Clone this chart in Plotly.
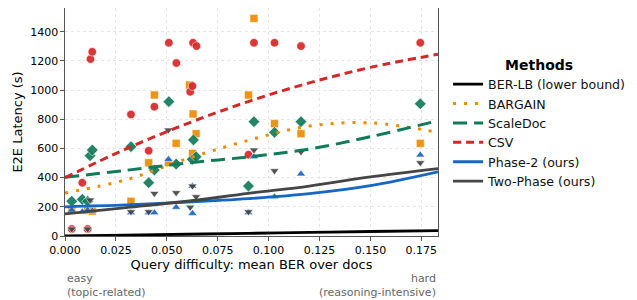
import plotly.graph_objects as go

# ---------------- data ----------------
csv_x = [0.0033, 0.0085, 0.0111, 0.0125, 0.0134, 0.0324, 0.0411, 0.0439, 0.0510, 0.0547,
         0.0615, 0.0626, 0.0629, 0.0646, 0.0901, 0.0928, 0.1029, 0.1159, 0.1745]
csv_y = [48, 365, 48, 1212, 1262, 833, 584, 886, 1324, 1185,
         988, 1027, 1324, 1301, 557, 1324, 1324, 1301, 1324]

bargain_x = [0.0033, 0.0111, 0.0134, 0.0324, 0.0411, 0.0439, 0.0508, 0.0546, 0.0611,
             0.0626, 0.0629, 0.0644, 0.0901, 0.0928, 0.1029, 0.1159, 0.1745]
bargain_y = [178, 175, 170, 238, 502, 966, 502, 635, 1034,
             566, 836, 701, 966, 1491, 770, 701, 635]

scaledoc_x = [0.0033, 0.0085, 0.0111, 0.0123, 0.0134, 0.0324, 0.0411, 0.0439, 0.0510,
              0.0546, 0.0625, 0.0631, 0.0644, 0.0901, 0.0928, 0.1029, 0.1159, 0.1745]
scaledoc_y = [238, 251, 238, 550, 589, 612, 365, 452, 920,
              493, 525, 658, 543, 342, 783, 710, 783, 906]

phase2_x = [0.0033, 0.0085, 0.0111, 0.0134, 0.0324, 0.0411, 0.0439, 0.0508, 0.0546,
            0.0626, 0.0626, 0.0901, 0.0928, 0.1029, 0.1159, 0.1745]
phase2_y = [178, 166, 178, 172, 160, 160, 160, 525, 197,
            155, 342, 160, 543, 269, 425, 555]

twophase_x = [0.0033, 0.0111, 0.0123, 0.0324, 0.0411, 0.0439, 0.0508, 0.0546, 0.0615,
              0.0626, 0.0644, 0.0901, 0.0928, 0.1029, 0.1159, 0.1745]
twophase_y = [48, 48, 247, 166, 166, 292, 726, 297, 197,
              342, 269, 166, 589, 447, 577, 502]

# trend curves
trend_x = [0.0, 0.03, 0.06, 0.09, 0.12, 0.15, 0.1832]
berlb_trend = [0, 6, 12, 18, 25, 31, 37]
bargain_trend = [295, 385, 529, 655, 753, 775, 710]
scaledoc_trend = [402, 450, 500, 542, 596, 680, 790]
csv_trend = [400, 597, 770, 921, 1049, 1155, 1245]
phase2_trend = [200, 213, 232, 256, 290, 345, 440]
twophase_trend = [152, 195, 238, 292, 342, 405, 462]

x_ticks = [0.0, 0.025, 0.05, 0.075, 0.1, 0.125, 0.15, 0.175]
y_ticks = [0, 200, 400, 600, 800, 1000, 1200, 1400]

# ---------------- styling ----------------
C_RED = "#d62728"
C_ORANGE = "#ee8a00"
C_GREEN = "#117a5a"
C_BLUE = "#1666c5"
C_GRAY = "#454545"
C_BLACK = "#000000"

fig = go.Figure()

def pts(x, y, color, symbol, size=8):
    fig.add_trace(go.Scatter(
        x=x, y=y, mode="markers", showlegend=False, hoverinfo="skip",
        marker=dict(color=color, symbol=symbol, size=size, opacity=0.92,
                    line=dict(color="white", width=0.6))))

pts(bargain_x, bargain_y, C_ORANGE, "square", 8)
pts(scaledoc_x, scaledoc_y, C_GREEN, "diamond", 9)
pts(csv_x, csv_y, C_RED, "circle", 8.5)
pts(phase2_x, phase2_y, C_BLUE, "triangle-up", 8)
pts(twophase_x, twophase_y, C_GRAY, "triangle-down", 8)

def trend(name, y, color, dash, width=2.8):
    fig.add_trace(go.Scatter(
        x=trend_x, y=y, mode="lines", name=name, hoverinfo="skip",
        line=dict(color=color, dash=dash, width=width, shape="spline", smoothing=1.0)))

trend("BER-LB (lower bound)", berlb_trend, C_BLACK, "solid", 2.8)
trend("BARGAIN", bargain_trend, C_ORANGE, "3px,8px", 3)
trend("ScaleDoc", scaledoc_trend, C_GREEN, "14px,7px", 3)
trend("CSV", csv_trend, C_RED, "8px,5px", 3)
trend("Phase-2 (ours)", phase2_trend, C_BLUE, "solid", 2.8)
trend("Two-Phase (ours)", twophase_trend, C_GRAY, "solid", 2.8)

FONT = "DejaVu Sans"

# the page body adds an 8px offset; margins compensate for it
fig.update_layout(
    width=637, height=300,
    margin=dict(l=57, r=207, t=0, b=72),
    paper_bgcolor="white", plot_bgcolor="white",
    font=dict(family=FONT, size=11, color="black"),
    legend=dict(
        x=1.027, xanchor="left", y=0.81, yanchor="top",
        font=dict(family=FONT, size=12.6, color="#111"),
        title=dict(text="<b>Methods</b>", side="top center",
                   font=dict(family=FONT, size=14, color="black")),
        bgcolor="rgba(0,0,0,0)", borderwidth=0,
        itemwidth=30, tracegroupgap=0,
    ),
    xaxis=dict(
        range=[0, 0.1832], tickvals=x_ticks,
        ticktext=[f"{v:.3f}" for v in x_ticks],
        showgrid=True, gridcolor="#e6e6e6", griddash="dot", gridwidth=1,
        zeroline=False, showline=True, mirror=True, linecolor="#555", linewidth=1.2,
        ticks="outside", ticklen=3.5, tickcolor="#555",
        tickfont=dict(family=FONT, size=11, color="black"),
        title=dict(text="Query difficulty: mean BER over docs",
                   font=dict(family=FONT, size=13, color="black"), standoff=2),
    ),
    yaxis=dict(
        range=[0, 1562], tickvals=y_ticks,
        showgrid=True, gridcolor="#e6e6e6", griddash="dot", gridwidth=1,
        zeroline=False, showline=True, mirror=True, linecolor="#555", linewidth=1.2,
        ticks="outside", ticklen=3.5, tickcolor="#555",
        tickfont=dict(family=FONT, size=11, color="black"),
        title=dict(text="E2E Latency (s)",
                   font=dict(family=FONT, size=13, color="black"), standoff=4),
    ),
    annotations=[
        dict(text="easy<br>(topic-related)", xref="paper", yref="paper",
             x=0, y=-0.15, xanchor="left", yanchor="top", align="left",
             showarrow=False, font=dict(family=FONT, size=11, color="#666")),
        dict(text="hard<br>(reasoning-intensive)", xref="paper", yref="paper",
             x=1, y=-0.15, xanchor="right", yanchor="top", align="right",
             showarrow=False, font=dict(family=FONT, size=11, color="#666")),
    ],
)

fig.write_html("out.html")
